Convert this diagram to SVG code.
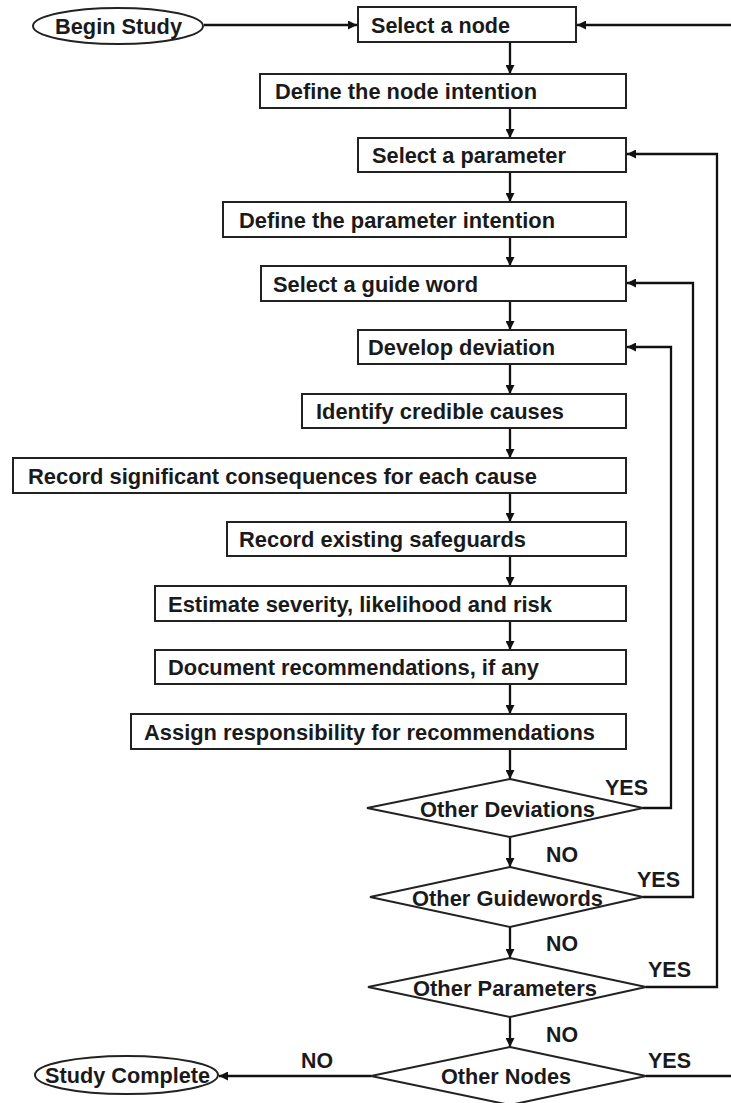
<svg xmlns="http://www.w3.org/2000/svg" width="731" height="1103" viewBox="0 0 731 1103">
<style>
.box{fill:#fff;stroke:#222;stroke-width:2}
.t{font-family:"Liberation Sans",Arial,sans-serif;font-weight:bold;font-size:21.5px;fill:#1a1a1a}
.c{fill:none;stroke:#111;stroke-width:2.3}
</style>
<defs>
<marker id="ah" viewBox="0 0 10 10" refX="10" refY="5" markerWidth="9" markerHeight="9" markerUnits="userSpaceOnUse" orient="auto">
<path d="M0,0 L10,5 L0,10 z" fill="#111"/>
</marker>
</defs>
<rect width="731" height="1103" fill="#fff"/>
<g id="connectors">
<line class="c" x1="204" y1="25" x2="357" y2="25" marker-end="url(#ah)"/>
<line class="c" x1="731" y1="25" x2="577" y2="25" marker-end="url(#ah)"/>
<line class="c" x1="510" y1="42" x2="510" y2="74" marker-end="url(#ah)"/>
<line class="c" x1="510" y1="108" x2="510" y2="138" marker-end="url(#ah)"/>
<line class="c" x1="510" y1="172" x2="510" y2="202" marker-end="url(#ah)"/>
<line class="c" x1="510" y1="237" x2="510" y2="266" marker-end="url(#ah)"/>
<line class="c" x1="510" y1="301" x2="510" y2="330" marker-end="url(#ah)"/>
<line class="c" x1="510" y1="364" x2="510" y2="394" marker-end="url(#ah)"/>
<line class="c" x1="510" y1="428" x2="510" y2="458" marker-end="url(#ah)"/>
<line class="c" x1="510" y1="493" x2="510" y2="522" marker-end="url(#ah)"/>
<line class="c" x1="510" y1="556" x2="510" y2="586" marker-end="url(#ah)"/>
<line class="c" x1="510" y1="621" x2="510" y2="650" marker-end="url(#ah)"/>
<line class="c" x1="510" y1="684" x2="510" y2="714" marker-end="url(#ah)"/>
<line class="c" x1="510" y1="749" x2="510" y2="779" marker-end="url(#ah)"/>
<line class="c" x1="510" y1="837" x2="510" y2="867" marker-end="url(#ah)"/>
<line class="c" x1="510" y1="927" x2="510" y2="958" marker-end="url(#ah)"/>
<line class="c" x1="510" y1="1017" x2="510" y2="1047" marker-end="url(#ah)"/>
<polyline class="c" points="643,808 671,808 671,347 627,347" marker-end="url(#ah)"/>
<polyline class="c" points="643,897 693,897 693,283 627,283" marker-end="url(#ah)"/>
<polyline class="c" points="646,987 717,987 717,154 627,154" marker-end="url(#ah)"/>
<line class="c" x1="646" y1="1076" x2="731" y2="1076"/>
<line class="c" x1="371" y1="1076" x2="219" y2="1076" marker-end="url(#ah)"/>
</g>
<g id="begin"><ellipse class="box" cx="118" cy="26" rx="85" ry="18"/><text class="t" x="55" y="34" textLength="127" lengthAdjust="spacingAndGlyphs">Begin Study</text></g>
<g id="n1"><rect class="box" x="358" y="7" width="218" height="35"/><text class="t" x="371" y="32.5" textLength="139" lengthAdjust="spacingAndGlyphs">Select a node</text></g>
<g id="n2"><rect class="box" x="260" y="74" width="366" height="34"/><text class="t" x="275" y="99" textLength="262" lengthAdjust="spacingAndGlyphs">Define the node intention</text></g>
<g id="n3"><rect class="box" x="358" y="138" width="268" height="34"/><text class="t" x="372" y="163" textLength="194" lengthAdjust="spacingAndGlyphs">Select a parameter</text></g>
<g id="n4"><rect class="box" x="223" y="202" width="403" height="35"/><text class="t" x="239" y="227.5" textLength="316" lengthAdjust="spacingAndGlyphs">Define the parameter intention</text></g>
<g id="n5"><rect class="box" x="261" y="266" width="365" height="35"/><text class="t" x="273" y="291.5" textLength="205" lengthAdjust="spacingAndGlyphs">Select a guide word</text></g>
<g id="n6"><rect class="box" x="358" y="330" width="268" height="34"/><text class="t" x="368" y="355" textLength="187" lengthAdjust="spacingAndGlyphs">Develop deviation</text></g>
<g id="n7"><rect class="box" x="302" y="394" width="324" height="34"/><text class="t" x="316" y="419" textLength="248" lengthAdjust="spacingAndGlyphs">Identify credible causes</text></g>
<g id="n8"><rect class="box" x="13" y="458" width="613" height="35"/><text class="t" x="28" y="483.5" textLength="509" lengthAdjust="spacingAndGlyphs">Record significant consequences for each cause</text></g>
<g id="n9"><rect class="box" x="227" y="522" width="399" height="34"/><text class="t" x="239" y="547" textLength="287" lengthAdjust="spacingAndGlyphs">Record existing safeguards</text></g>
<g id="n10"><rect class="box" x="155" y="586" width="471" height="35"/><text class="t" x="168" y="611.5" textLength="384" lengthAdjust="spacingAndGlyphs">Estimate severity, likelihood and risk</text></g>
<g id="n11"><rect class="box" x="155" y="650" width="471" height="34"/><text class="t" x="168" y="675" textLength="371" lengthAdjust="spacingAndGlyphs">Document recommendations, if any</text></g>
<g id="n12"><rect class="box" x="131" y="714" width="495" height="35"/><text class="t" x="144" y="739.5" textLength="451" lengthAdjust="spacingAndGlyphs">Assign responsibility for recommendations</text></g>
<g id="d1"><polygon class="box" points="510,779 643,808 510,837 367,808"/><text class="t" x="420" y="817" textLength="175" lengthAdjust="spacingAndGlyphs">Other Deviations</text></g>
<g id="d2"><polygon class="box" points="510,867 643,897 510,927 370,897"/><text class="t" x="412" y="905.5" textLength="191" lengthAdjust="spacingAndGlyphs">Other Guidewords</text></g>
<g id="d3"><polygon class="box" points="510,958 646,987 510,1017 368,987"/><text class="t" x="413" y="995.5" textLength="184" lengthAdjust="spacingAndGlyphs">Other Parameters</text></g>
<g id="d4"><polygon class="box" points="510,1047 646,1076 510,1105 371,1076"/><text class="t" x="441" y="1083.5" textLength="130" lengthAdjust="spacingAndGlyphs">Other Nodes</text></g>
<g id="end"><ellipse class="box" cx="126.5" cy="1075" rx="91.5" ry="19"/><text class="t" x="45" y="1082.5" textLength="165" lengthAdjust="spacingAndGlyphs">Study Complete</text></g>
<g id="labels">
<text class="t" x="605" y="795" textLength="43" lengthAdjust="spacingAndGlyphs">YES</text>
<text class="t" x="546" y="862" textLength="32" lengthAdjust="spacingAndGlyphs">NO</text>
<text class="t" x="637" y="887" textLength="43" lengthAdjust="spacingAndGlyphs">YES</text>
<text class="t" x="546" y="951" textLength="32" lengthAdjust="spacingAndGlyphs">NO</text>
<text class="t" x="648" y="977" textLength="43" lengthAdjust="spacingAndGlyphs">YES</text>
<text class="t" x="546" y="1042" textLength="32" lengthAdjust="spacingAndGlyphs">NO</text>
<text class="t" x="648" y="1068" textLength="43" lengthAdjust="spacingAndGlyphs">YES</text>
<text class="t" x="301" y="1068" textLength="32" lengthAdjust="spacingAndGlyphs">NO</text>
</g>
</svg>
